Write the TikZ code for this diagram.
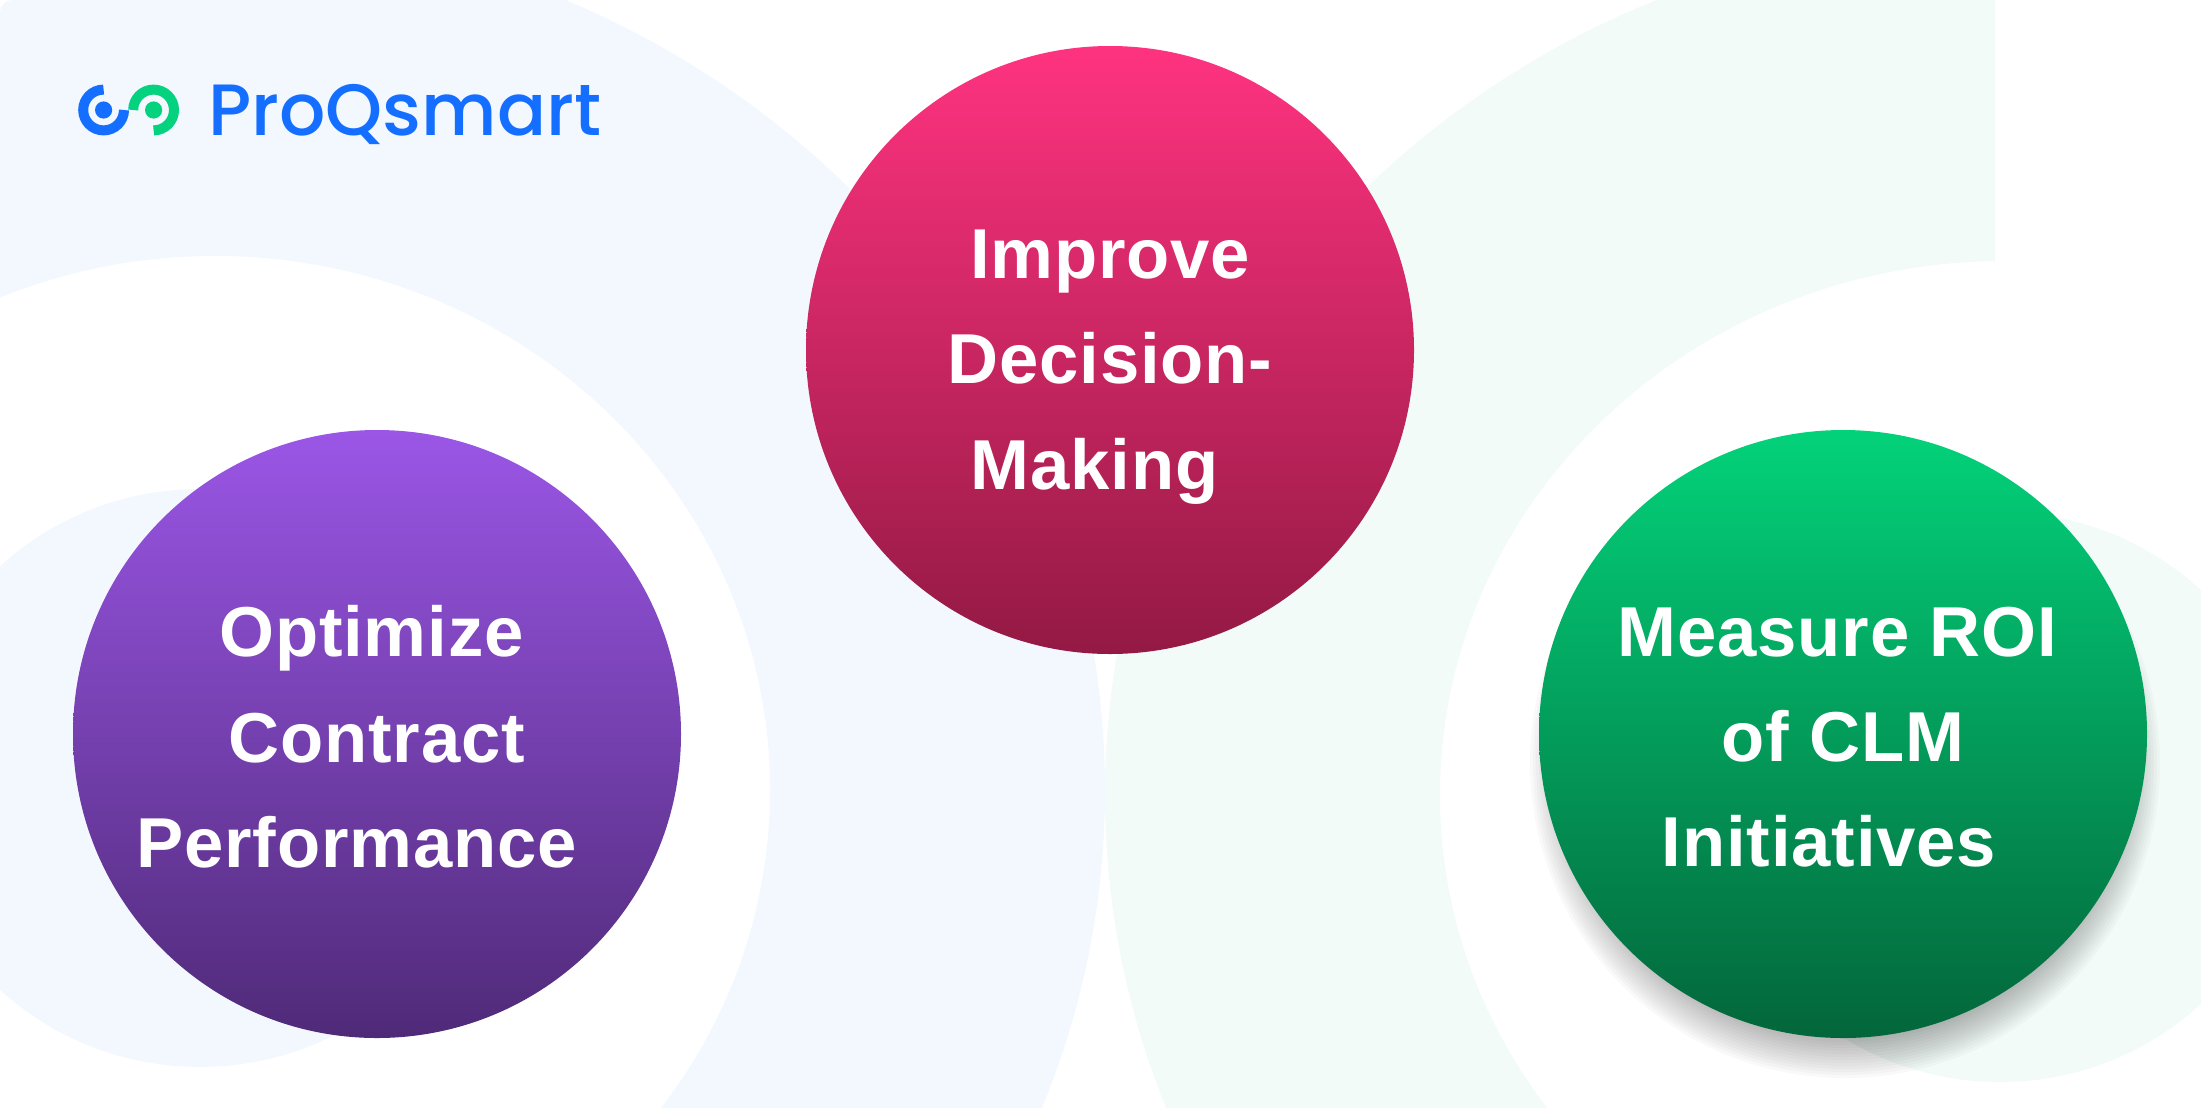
\documentclass[tikz,border=0pt]{standalone}
\usepackage{fontspec}
\setmainfont[LetterSpace=1.2]{Liberation Sans}
\newfontfamily\logofont[UprightFont={* Medium}]{Poppins}
\definecolor{bandblue}{HTML}{F3F8FF}
\definecolor{bandgreen}{HTML}{F2FBF8}
\definecolor{logoblue}{HTML}{146EFF}
\definecolor{logogreen}{HTML}{04D27F}
\definecolor{bubpurpletop}{HTML}{9B56E6}
\definecolor{bubpurplebot}{HTML}{4F2A78}
\definecolor{bubpinktop}{HTML}{FF3380}
\definecolor{bubpinkbot}{HTML}{931943}
\definecolor{bubgreentop}{HTML}{03D27A}
\definecolor{bubgreenbot}{HTML}{03663B}
\tikzset{
  bubble/.style={circle,inner sep=0pt,minimum size=456pt,shading=axis,shading angle=0},
  bubbletext/.style={align=center,text=white,font=\fontsize{53}{79}\selectfont\bfseries},
  logoarc/.style={line width=7.5pt}
}
\begin{document}
\begin{tikzpicture}[x=0.75pt,y=0.75pt,yscale=-1,xscale=1]
\useasboundingbox (0,0) rectangle (2201,1107);

%Shape: Left band
\begin{scope}
\clip[rounded corners=9pt] (0,0) rectangle (2300,1300);
\clip (0,0) rectangle (2201,1107);
\fill[bandblue,even odd rule] (205,790) ellipse (900 and 862) (215,790) ellipse (555 and 534);
\fill[bandblue] (200,778) ellipse (294 and 289);
\end{scope}

%Shape: Right band
\begin{scope}
\clip (0,0) rectangle (1995,1107);
\fill[bandgreen,even odd rule] (2005,795) ellipse (900 and 862) (2005,795) ellipse (565 and 534);
\end{scope}
\begin{scope}
\clip (0,0) rectangle (2201,1107);
\fill[bandgreen] (2000,797) ellipse (292 and 285);
\end{scope}

%Shape: Logo rings
\draw[logoarc,logoblue] (103.6,89.6) arc (270:0:20.4) ;
\fill[logoblue] (103.6,110) circle (8.6);
\draw[logoarc,logogreen] (133.2,110) arc (180:450:20.4) ;
\fill[logogreen] (153.6,110) circle (8.6);

% Text Node
\node[anchor=base west,inner sep=0pt,text=logoblue] (logoname) at (208,135) {\logofont\fontsize{54.5}{54.5}\selectfont ProQsmart};

%Shape: Shadow of the right circle
\foreach \r in {270,273,...,315} {
  \fill[black,opacity=0.024] (1845,763) circle (\r);
}

%Shape: Circles
\node[bubble,top color=bubpurpletop,bottom color=bubpurplebot] (contract) at (377,734) {};
\node[bubble,top color=bubpinktop,bottom color=bubpinkbot] (decision) at (1110,350) {};
\node[bubble,top color=bubgreentop,bottom color=bubgreenbot] (roi) at (1843,734) {};

% Text Node
\node[bubbletext] (contracttext) at (377,737) {Optimize\hspace*{8.4pt}\\Contract\hspace*{6.3pt}\\Performance\hspace*{30.6pt}};
\node[bubbletext] (decisiontext) at (1110,367) {Improve\\Decision-\\Making\hspace*{23pt}};
\node[bubbletext] (roitext) at (1843,737) {Measure ROI\hspace*{8.4pt}\\of CLM\\Initiatives\hspace*{21pt}};

\end{tikzpicture}
\end{document}
